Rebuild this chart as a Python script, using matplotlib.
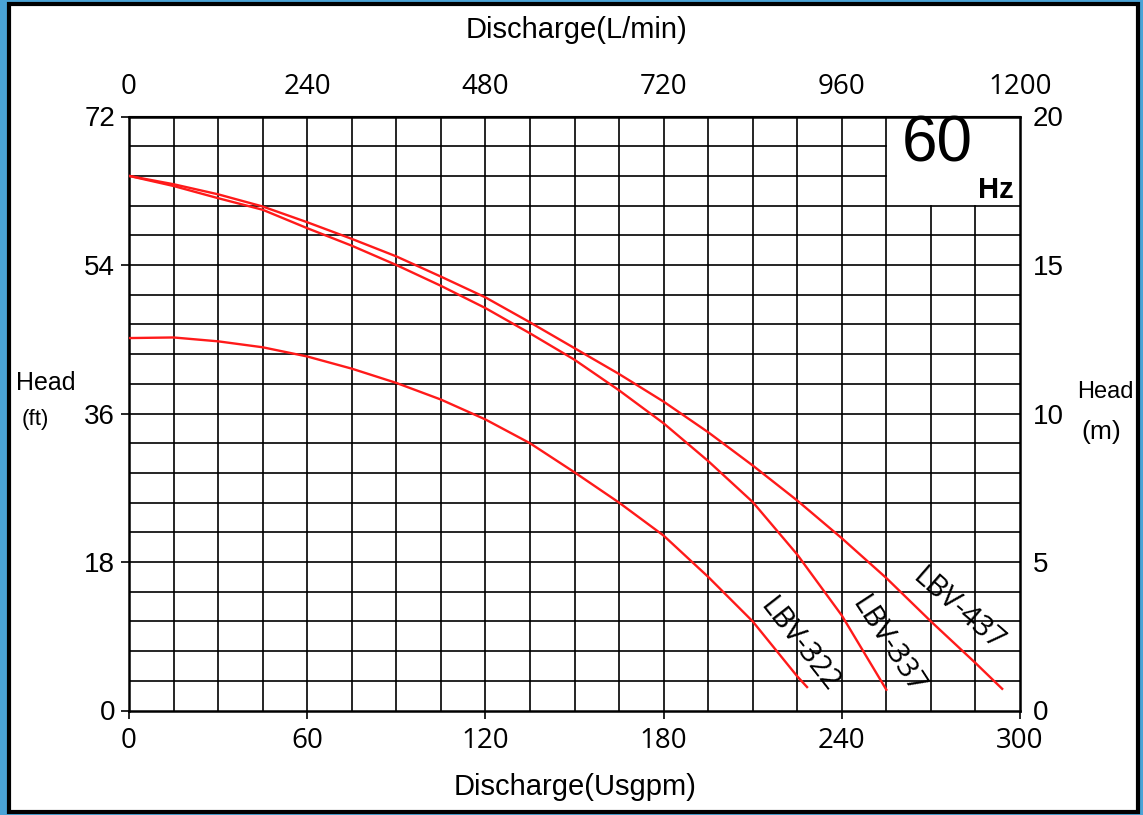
import matplotlib.pyplot as plt
from matplotlib.patches import Rectangle
import numpy as np

NARROW = ['Liberation Sans Narrow', 'Liberation Sans', 'DejaVu Sans']
ROUND = ['Open Sans', 'DejaVu Sans']

# discharge (Usgpm) and head (m)
q_322 = [0, 15, 30, 45, 60, 75, 90, 105, 120, 135, 150, 165, 180, 195, 210, 225, 228.3]
h_322 = [12.54, 12.56, 12.43, 12.23, 11.92, 11.51, 11.03, 10.47, 9.8, 9.0, 8.02, 7.0,
         5.89, 4.5, 3.0, 1.15, 0.79]

q_337 = [0, 15, 30, 45, 60, 75, 90, 105, 120, 135, 150, 165, 180, 195, 210, 225, 240, 255]
h_337 = [18.0, 17.66, 17.25, 16.86, 16.24, 15.65, 15.0, 14.3, 13.55, 12.7, 11.81, 10.78,
         9.67, 8.4, 7.02, 5.25, 3.2, 0.7]

q_437 = [0, 15, 30, 45, 60, 75, 90, 105, 120, 135, 150, 165, 180, 195, 210, 225, 240,
         255, 270, 285, 294]
h_437 = [18.0, 17.72, 17.38, 16.97, 16.44, 15.88, 15.29, 14.61, 13.91, 13.07, 12.2, 11.33,
         10.4, 9.37, 8.25, 7.07, 5.8, 4.46, 3.0, 1.6, 0.73]

models = ['LBV-322', 'LBV-337', 'LBV-437']
label_pos = [(225.5, 2.2, -52), (255.5, 2.2, -57), (279, 3.4, -41)]

ft_ticks = [0, 18, 36, 54, 72]
m_ticks = [0, 5, 10, 15, 20]
gpm_ticks = [0, 60, 120, 180, 240, 300]
lpm_ticks = [0, 240, 480, 720, 960, 1200]

fig = plt.figure(figsize=(11.43, 8.15), dpi=100, facecolor='#4aa3d6')
fig.patches.append(Rectangle((9 / 1143, 3 / 815), 1129 / 1143, 808 / 815,
                             transform=fig.transFigure, facecolor='white',
                             edgecolor='black', linewidth=3, zorder=-5))

ax = fig.add_axes([129 / 1143, 1 - 710.5 / 815, 891 / 1143, 594 / 815], zorder=2)
ax.set_facecolor('white')
ax.set_xlim(0, 300)
ax.set_ylim(0, 20)

# grid, leaving the "60 Hz" box empty
for x in np.arange(15, 300, 15):
    top = 17 if x > 255 else 20
    ax.plot([x, x], [0, top], color='black', lw=1.2, zorder=1)
for y in np.arange(1, 20, 1):
    right = 255 if y > 17 else 300
    ax.plot([0, right], [y, y], color='black', lw=1.2, zorder=1)

ax.plot(q_322, h_322, color='#ff1a1a', lw=1.7, zorder=3)
ax.plot(q_337, h_337, color='#ff1a1a', lw=1.7, zorder=3)
ax.plot(q_437, h_437, color='#ff1a1a', lw=1.7, zorder=3)

for name, (x, y, rot) in zip(models, label_pos):
    ax.text(x, y, name, rotation=rot, rotation_mode='anchor', family=ROUND,
            fontsize=21, ha='center', va='center', zorder=4)

ax.text(272, 19.05, '60', family=NARROW, fontsize=46, ha='center', va='center')
ax.text(297.8, 17.52, 'Hz', family=NARROW, fontsize=21, fontweight='bold',
        ha='right', va='center')

for s in ax.spines.values():
    s.set_linewidth(1.8)

ax.set_xticks(gpm_ticks)
ax.set_xticklabels([str(v) for v in gpm_ticks], family=ROUND, fontsize=20)
ax.set_yticks(m_ticks)
ax.set_yticklabels([str(v) for v in ft_ticks], family=NARROW, fontsize=20)
ax.tick_params(axis='x', direction='out', length=6, width=1.2, pad=6)
ax.tick_params(axis='y', direction='out', length=6, width=1.2, pad=4)

ax_r = ax.secondary_yaxis('right')
ax_r.set_yticks(m_ticks)
ax_r.set_yticklabels([str(v) for v in m_ticks], family=NARROW, fontsize=20)
ax_r.tick_params(length=0, pad=9)

ax_t = ax.secondary_xaxis('top', functions=(lambda q: q * 4, lambda q: q / 4))
ax_t.set_xticks(lpm_ticks)
ax_t.set_xticklabels([str(v) for v in lpm_ticks], family=ROUND, fontsize=20)
ax_t.tick_params(length=0, pad=11)

fig.text(577 / 1143, 1 - 30 / 815, 'Discharge(L/min)', family=NARROW, fontsize=21,
         ha='center', va='center')
fig.text(575 / 1143, 1 - 787 / 815, 'Discharge(Usgpm)', family=NARROW, fontsize=21,
         ha='center', va='center')
fig.text(46 / 1143, 1 - 383 / 815, 'Head', family=NARROW, fontsize=18,
         ha='center', va='center')
fig.text(35 / 1143, 1 - 419 / 815, '(ft)', family=NARROW, fontsize=16,
         ha='center', va='center')
fig.text(1105 / 1143, 1 - 392 / 815, 'Head', family=NARROW, fontsize=17,
         ha='center', va='center')
fig.text(1101 / 1143, 1 - 432 / 815, '(m)', family=NARROW, fontsize=19,
         ha='center', va='center')

fig.savefig('out.png', dpi=100, facecolor=fig.get_facecolor())
